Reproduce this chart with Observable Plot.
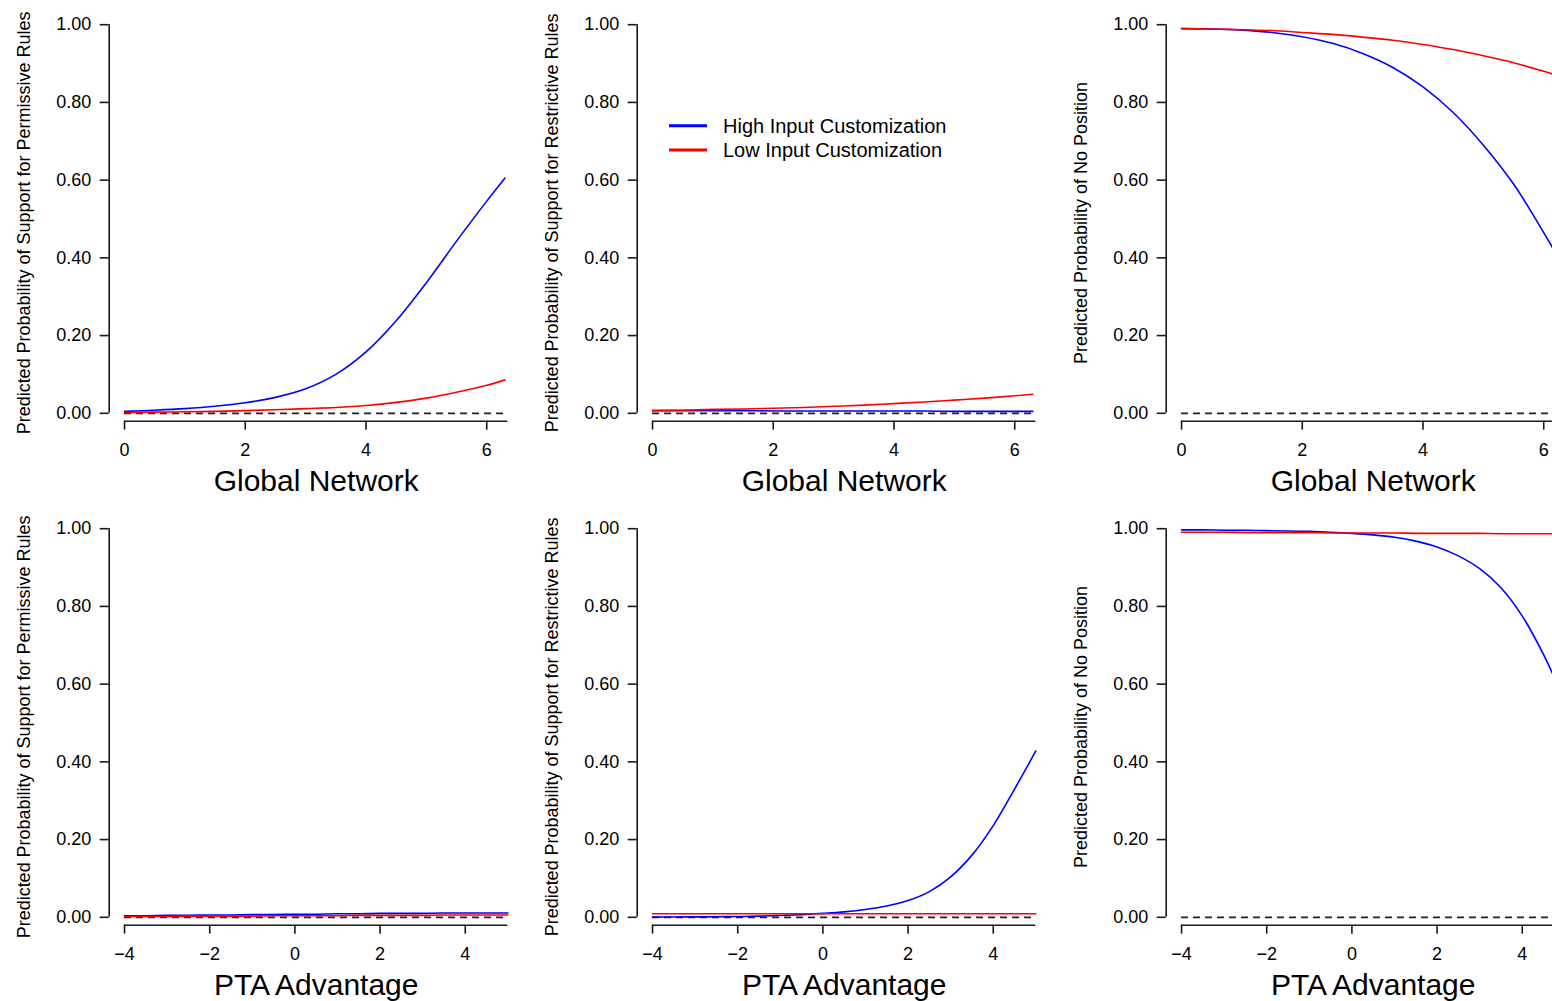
<!DOCTYPE html>
<html>
<head>
<meta charset="utf-8">
<script src="https://cdn.jsdelivr.net/npm/d3@7"></script>
<script src="https://cdn.jsdelivr.net/npm/@observablehq/plot@0.6"></script>
<style>
  html, body { margin: 0; padding: 0; background: #fff; overflow: hidden; }
  #grid { position: relative; width: 1552px; height: 1001px; overflow: hidden; background: #fff; }
  #grid svg { position: absolute; }
</style>
</head>
<body>
<div id="grid"></div>
<script>
// Predictor grids
const globalNetwork = [0, 0.5, 1, 1.5, 2, 2.5, 3, 3.5, 4, 4.5, 5, 5.5, 6, 6.3];
const ptaAdvantage = [-4, -3.5, -3, -2.5, -2, -1.5, -1, -0.5, 0, 0.5, 1, 1.5, 2, 2.5, 3, 3.5, 4, 4.5, 5];

// Observed range of each predictor (extent of the x-axis line)
const globalNetworkRange = [0, 6.35];
const ptaAdvantageRange = [-4, 5];

// Series names
const groups = ["High Input Customization", "Low Input Customization"];

// Predicted probabilities against Global Network
const permissiveGlobalHigh  = [0.005, 0.008, 0.012, 0.018, 0.027, 0.041, 0.063, 0.100, 0.158, 0.238, 0.336, 0.443, 0.546, 0.605];
const permissiveGlobalLow   = [0.002, 0.003, 0.004, 0.005, 0.007, 0.009, 0.012, 0.015, 0.020, 0.028, 0.039, 0.054, 0.072, 0.086];
const restrictiveGlobalHigh = [0.007, 0.007, 0.007, 0.007, 0.006, 0.006, 0.006, 0.006, 0.006, 0.006, 0.005, 0.005, 0.005, 0.005];
const restrictiveGlobalLow  = [0.007, 0.008, 0.010, 0.011, 0.013, 0.015, 0.018, 0.021, 0.025, 0.029, 0.034, 0.039, 0.045, 0.049];
const noPositionGlobalHigh  = [0.990, 0.989, 0.986, 0.980, 0.969, 0.952, 0.926, 0.890, 0.840, 0.774, 0.690, 0.590, 0.465, 0.385];
const noPositionGlobalLow   = [0.990, 0.989, 0.987, 0.985, 0.980, 0.975, 0.968, 0.960, 0.949, 0.936, 0.920, 0.902, 0.880, 0.866];

// Predicted probabilities against PTA Advantage
const permissivePtaHigh  = [0.004, 0.004, 0.005, 0.005, 0.006, 0.006, 0.007, 0.007, 0.008, 0.008, 0.009, 0.009, 0.010, 0.010, 0.010, 0.011, 0.011, 0.011, 0.011];
const permissivePtaLow   = [0.002, 0.002, 0.002, 0.003, 0.003, 0.003, 0.003, 0.004, 0.004, 0.004, 0.004, 0.005, 0.005, 0.005, 0.005, 0.006, 0.006, 0.006, 0.006];
const restrictivePtaHigh = [0.0005, 0.0007, 0.001, 0.0015, 0.002, 0.003, 0.0045, 0.0068, 0.010, 0.014, 0.020, 0.029, 0.043, 0.066, 0.104, 0.160, 0.236, 0.330, 0.428];
const restrictivePtaLow  = [0.009, 0.009, 0.009, 0.009, 0.009, 0.009, 0.009, 0.009, 0.009, 0.009, 0.009, 0.009, 0.009, 0.009, 0.009, 0.009, 0.009, 0.009, 0.009];
const noPositionPtaHigh  = [0.997, 0.997, 0.996, 0.996, 0.995, 0.994, 0.993, 0.991, 0.988, 0.984, 0.978, 0.968, 0.953, 0.930, 0.897, 0.848, 0.775, 0.676, 0.555];
const noPositionPtaLow   = [0.991, 0.991, 0.991, 0.990, 0.990, 0.990, 0.990, 0.989, 0.989, 0.989, 0.989, 0.988, 0.988, 0.988, 0.988, 0.987, 0.987, 0.987, 0.987];

// Tick values
const yTicks = [0, 0.2, 0.4, 0.6, 0.8, 1];
const globalNetworkTicks = [0, 2, 4, 6];
const ptaAdvantageTicks = [-4, -2, 0, 2, 4];

// Axis titles
const yLabels = [
  "Predicted Probability of Support for Permissive Rules",
  "Predicted Probability of Support for Restrictive Rules",
  "Predicted Probability of No Position"
];
const xLabels = ["Global Network", "PTA Advantage"];

// Layout
const FONT = '"Liberation Sans", Arial, Helvetica, sans-serif';
const PANEL_W = 528.3, PANEL_H = 504;
const COLORS = ["#0000ff", "#ff0000"];
const AXIS = "#1a1a1a";
const Y_MIN = -0.0203;

function padDomain([a, b]) {
  const pad = (b - a) * 0.04;
  return [a - pad, b + pad];
}

function panel({x, high, low, range, ticks, xLabel, yLabel}) {
  const rows = [];
  x.forEach((v, i) => rows.push({x: v, p: high[i], group: groups[0]}));
  x.forEach((v, i) => rows.push({x: v, p: low[i], group: groups[1]}));
  const xDomain = padDomain(range);
  return Plot.plot({
    width: PANEL_W,
    height: PANEL_H,
    marginLeft: 108.7,
    marginRight: 5.6,
    marginTop: 24.2,
    marginBottom: 83.3,
    style: {fontFamily: FONT, fontSize: "18px", color: "#000", background: "transparent", overflow: "visible"},
    x: {domain: xDomain},
    y: {domain: [Y_MIN, 1]},
    color: {domain: groups, range: COLORS},
    marks: [
      // y axis: line from 0 to 1 plus ticks
      Plot.ruleX([xDomain[0]], {y1: 0, y2: 1, stroke: AXIS, strokeWidth: 1.6}),
      Plot.axisY({ticks: yTicks, tickSize: 9, tickPadding: 9, tickFormat: d3.format(".2f"),
                  label: null, stroke: AXIS, strokeWidth: 1.6, fontSize: 18}),
      // x axis: line over the predictor's range plus ticks
      Plot.ruleY([Y_MIN], {x1: range[0], x2: range[1], stroke: AXIS, strokeWidth: 1.6}),
      Plot.axisX({ticks, tickSize: 9, tickPadding: 13, tickFormat: d3.format("d"), label: null,
                  stroke: AXIS, strokeWidth: 1.6, fontSize: 18}),
      // axis titles
      Plot.text([yLabel], {frameAnchor: "left", textAnchor: "middle", lineAnchor: "middle",
                           rotate: -90, dx: -84.5, fontSize: 18, fill: "#000"}),
      Plot.text([xLabel], {frameAnchor: "bottom", textAnchor: "middle", lineAnchor: "middle",
                           dy: 60.4, fontSize: 30, fill: "#000"}),
      // reference line at zero
      Plot.ruleY([0], {x1: x[0], x2: x[x.length - 1], stroke: "#222", strokeWidth: 1.7, strokeDasharray: "7,5"}),
      // predicted probability curves
      Plot.line(rows, {x: "x", y: "p", z: "group", stroke: "group", strokeWidth: 1.6, curve: "catmull-rom"})
    ]
  });
}

const grid = document.getElementById("grid");

const topRow = [
  [permissiveGlobalHigh, permissiveGlobalLow],
  [restrictiveGlobalHigh, restrictiveGlobalLow],
  [noPositionGlobalHigh, noPositionGlobalLow]
];
const bottomRow = [
  [permissivePtaHigh, permissivePtaLow],
  [restrictivePtaHigh, restrictivePtaLow],
  [noPositionPtaHigh, noPositionPtaLow]
];

topRow.forEach(([high, low], c) => {
  const svg = panel({x: globalNetwork, high, low, range: globalNetworkRange, ticks: globalNetworkTicks,
                     xLabel: xLabels[0], yLabel: yLabels[c]});
  svg.style.left = `${c * PANEL_W}px`;
  svg.style.top = "0px";
  grid.appendChild(svg);
});

bottomRow.forEach(([high, low], c) => {
  const svg = panel({x: ptaAdvantage, high, low, range: ptaAdvantageRange, ticks: ptaAdvantageTicks,
                     xLabel: xLabels[1], yLabel: yLabels[c]});
  svg.style.left = `${c * PANEL_W}px`;
  svg.style.top = `${PANEL_H}px`;
  grid.appendChild(svg);
});

// Legend in the Global Network / restrictive panel
const legend = d3.create("svg")
  .attr("width", 320)
  .attr("height", 60)
  .style("left", "660px")
  .style("top", "110px")
  .style("overflow", "visible");
groups.forEach((g, i) => {
  const y = 15.7 + i * 24.3;
  legend.append("line")
    .attr("x1", 9).attr("x2", 47).attr("y1", y).attr("y2", y)
    .attr("stroke", COLORS[i]).attr("stroke-width", 3);
  legend.append("text")
    .attr("x", 63).attr("y", y + 7)
    .attr("font-family", FONT).attr("font-size", 20).attr("fill", "#000")
    .text(g);
});
grid.appendChild(legend.node());
</script>
</body>
</html>
